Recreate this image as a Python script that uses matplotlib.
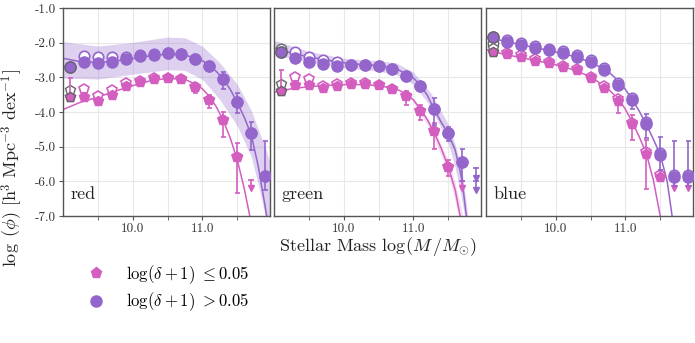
import numpy as np
import matplotlib
matplotlib.use('Agg')
import matplotlib.pyplot as plt
from matplotlib.ticker import MultipleLocator, FixedLocator
from matplotlib.lines import Line2D

plt.rcParams['font.family'] = 'serif'
plt.rcParams['font.serif'] = ['cmr10', 'DejaVu Serif']
plt.rcParams['mathtext.fontset'] = 'cm'
plt.rcParams['axes.unicode_minus'] = False
plt.rcParams['axes.formatter.use_mathtext'] = True

PURPLE = '#9466cc'
PINK = '#d35ec0'
GREYEDGE = '#666666'

# mass bins (log M)
mass = [9.1, 9.3, 9.5, 9.7, 9.9, 10.1, 10.3, 10.5, 10.7, 10.9, 11.1, 11.3, 11.5, 11.7, 11.9]
nan = np.nan

# ---------------- red ----------------
red_hi = [-2.69, -2.56, -2.58, -2.55, -2.48, -2.38, -2.35, -2.31, -2.33, -2.47, -2.68, -3.05, -3.71, -4.61, -5.85]
red_hi_open = [-2.69, -2.38, -2.40, -2.40, -2.42, -2.36, -2.34, -2.31, -2.33, -2.47, -2.68, -3.05, -3.71, -4.61, -5.85]
red_hi_elo = [0.08, 0.05, 0.05, 0.05, 0.05, 0.04, 0.04, 0.04, 0.04, 0.05, 0.08, 0.30, 0.33, 0.48, 0.39]
red_hi_ehi = [0.08, 0.05, 0.05, 0.05, 0.05, 0.04, 0.04, 0.04, 0.04, 0.05, 0.08, 0.21, 0.25, 0.33, 1.02]
red_lo = [-3.57, -3.56, -3.69, -3.50, -3.26, -3.14, -3.04, -3.01, -3.04, -3.29, -3.64, -4.23, -5.31, nan, nan]
red_lo_open = [-3.36, -3.34, -3.55, -3.36, -3.17, -3.12, -3.03, -3.01, -3.04, -3.29, -3.64, -4.23, -5.31, nan, nan]
red_lo_elo = [0.05, 0.10, 0.06, 0.05, 0.05, 0.04, 0.04, 0.04, 0.04, 0.17, 0.25, 0.48, 1.03, nan, nan]
red_lo_ehi = [0.55, 0.10, 0.06, 0.05, 0.05, 0.04, 0.04, 0.04, 0.04, 0.12, 0.13, 0.24, 0.41, nan, nan]
red_ul_x = [11.7]
red_ul_top = [-5.95]
red_ul_bot = [-6.2]
red_ul_col = [PINK]

# fit curves
red_fit_x = [9.0, 9.25, 9.5, 9.75, 10.0, 10.25, 10.5, 10.75, 10.9, 11.0, 11.1, 11.2, 11.3, 11.4, 11.5, 11.6, 11.7, 11.8, 11.9, 11.93]
red_fit_hi = [-2.45, -2.55, -2.57, -2.53, -2.46, -2.38, -2.33, -2.36, -2.44, -2.52, -2.66, -2.83, -3.05, -3.35, -3.72, -4.15, -4.65, -5.55, -6.72, -7.1]
red_fit_lo = [-3.93, -3.72, -3.57, -3.40, -3.24, -3.10, -3.03, -3.06, -3.20, -3.33, -3.55, -3.85, -4.25, -4.75, -5.38, -6.2, -7.2, nan, nan, nan]
red_band_x = [9.0, 9.5, 10.0, 10.5, 10.75, 11.0, 11.25, 11.5, 11.7, 11.85, 11.9, 12.0]
red_band_top = [-1.97, -2.10, -1.99, -1.84, -1.86, -2.10, -2.58, -3.2, -3.95, -4.75, -5.0, -5.66]
red_band_bot = [-3.02, -3.05, -2.91, -2.78, -2.80, -3.06, -3.64, -4.4, -5.28, -6.5, -7.0, -7.6]

# ---------------- green ----------------
green_hi = [-2.27, -2.44, -2.55, -2.61, -2.66, -2.65, -2.65, -2.68, -2.76, -2.95, -3.24, -3.92, -4.61, -5.43, nan]
green_hi_open = [-2.18, -2.27, -2.41, -2.49, -2.56, -2.63, -2.64, -2.68, -2.76, -2.95, -3.24, -3.92, -4.61, -5.43, nan]
green_hi_elo = [0.05, 0.04, 0.04, 0.04, 0.04, 0.04, 0.04, 0.04, 0.04, 0.05, 0.10, 0.45, 0.22, 0.55, nan]
green_hi_ehi = [0.05, 0.04, 0.04, 0.04, 0.04, 0.04, 0.04, 0.04, 0.04, 0.05, 0.10, 0.32, 0.18, 0.36, nan]
green_lo = [-3.40, -3.21, -3.22, -3.30, -3.26, -3.18, -3.18, -3.21, -3.33, -3.54, -3.97, -4.55, -5.58, nan, nan]
green_lo_open = [-3.20, -3.00, -3.04, -3.24, -3.18, -3.16, -3.17, -3.21, -3.33, -3.54, -3.97, -4.55, -5.58, nan, nan]
green_lo_elo = [0.05, 0.05, 0.05, 0.05, 0.04, 0.04, 0.04, 0.04, 0.05, 0.25, 0.26, 0.51, 0.28, nan, nan]
green_lo_ehi = [0.60, 0.05, 0.05, 0.05, 0.04, 0.04, 0.04, 0.04, 0.05, 0.15, 0.17, 0.24, 0.20, nan, nan]
green_ul_x = [11.9, 11.9, 11.7]
green_ul_top = [-5.62, -6.0, -6.0]
green_ul_bot = [-5.91, -6.26, -6.2]
green_ul_col = [PURPLE, PURPLE, PINK]

green_fit_x = [9.0, 9.25, 9.5, 9.75, 10.0, 10.25, 10.5, 10.75, 10.9, 11.0, 11.1, 11.2, 11.3, 11.4, 11.5, 11.6, 11.67, 11.7, 11.76]
green_fit_hi = [-2.15, -2.30, -2.41, -2.50, -2.58, -2.63, -2.66, -2.75, -2.90, -3.02, -3.22, -3.52, -3.93, -4.3, -4.62, -5.1, -5.7, -6.0, -7.0]
green_fit_lo = [-3.43, -3.33, -3.27, -3.23, -3.21, -3.21, -3.24, -3.33, -3.48, -3.65, -3.92, -4.22, -4.6, -5.05, -5.58, -6.25, -7.0, nan, nan]
green_band_x = [9.0, 9.5, 10.0, 10.5, 10.75, 11.0, 11.25, 11.5, 11.6, 11.7, 11.78]
green_band_top = [-1.93, -2.25, -2.45, -2.52, -2.58, -2.85, -3.45, -4.35, -4.95, -5.7, -7.0]
green_band_bot = [-2.35, -2.56, -2.72, -2.82, -2.92, -3.20, -3.85, -4.9, -5.6, -6.6, -7.5]
green_pband_x = [11.0, 11.25, 11.5, 11.6, 11.7]
green_pband_top = [-3.6, -4.3, -5.4, -6.05, -6.9]
green_pband_bot = [-3.72, -4.55, -5.75, -6.6, -7.5]

# ---------------- blue ----------------
blue_hi = [-1.85, -1.98, -2.07, -2.15, -2.22, -2.30, -2.41, -2.56, -2.79, -3.21, -3.66, -4.34, -5.23, -5.88, -5.88]
blue_hi_open = [-2.02, -1.93, -2.02, -2.10, -2.17, -2.25, -2.36, -2.51, -2.74, -3.16, -3.61, -4.29, -5.18, -5.83, -5.83]
blue_hi_elo = [0.04, 0.04, 0.04, 0.04, 0.04, 0.04, 0.04, 0.05, 0.08, 0.10, 0.25, 0.41, 0.44, 0.26, 0.26]
blue_hi_ehi = [0.04, 0.04, 0.04, 0.04, 0.04, 0.04, 0.04, 0.05, 0.08, 0.10, 0.10, 0.28, 0.50, 1.03, 1.03]
blue_lo = [-2.27, -2.34, -2.42, -2.52, -2.60, -2.71, -2.80, -3.03, -3.30, -3.67, -4.36, -5.21, -5.88, nan, nan]
blue_lo_open = [-2.15, -2.29, -2.37, -2.47, -2.55, -2.66, -2.75, -2.98, -3.25, -3.62, -4.31, -5.16, -5.83, nan, nan]
blue_lo_elo = [0.04, 0.04, 0.04, 0.04, 0.04, 0.04, 0.04, 0.05, 0.12, 0.37, 0.44, 1.01, 0.10, nan, nan]
blue_lo_ehi = [0.04, 0.04, 0.04, 0.04, 0.04, 0.04, 0.04, 0.05, 0.08, 0.10, 0.28, 0.41, 0.20, nan, nan]
blue_ul_x = [11.7, 11.9]
blue_ul_top = [-5.9, -5.9]
blue_ul_bot = [-6.2, -6.2]
blue_ul_col = [PINK, PINK]

blue_fit_x = [9.0, 9.25, 9.5, 9.75, 10.0, 10.25, 10.5, 10.75, 10.9, 11.0, 11.1, 11.2, 11.3, 11.4, 11.5, 11.6, 11.67]
blue_fit_hi = [-1.84, -1.95, -2.06, -2.16, -2.27, -2.39, -2.56, -2.83, -3.10, -3.35, -3.65, -3.98, -4.36, -4.78, -5.23, -6.0, -7.0]
blue_fit_lo = [-2.20, -2.33, -2.43, -2.53, -2.64, -2.78, -2.98, -3.33, -3.63, -3.92, -4.30, -4.72, -5.20, -5.95, -7.0, nan, nan]

panels = ['red', 'green', 'blue']
hi_vals = [red_hi, green_hi, blue_hi]
hi_open = [red_hi_open, green_hi_open, blue_hi_open]
hi_err = [(red_hi_elo, red_hi_ehi), (green_hi_elo, green_hi_ehi), (blue_hi_elo, blue_hi_ehi)]
lo_vals = [red_lo, green_lo, blue_lo]
lo_open = [red_lo_open, green_lo_open, blue_lo_open]
lo_err = [(red_lo_elo, red_lo_ehi), (green_lo_elo, green_lo_ehi), (blue_lo_elo, blue_lo_ehi)]
uls = [(red_ul_x, red_ul_top, red_ul_bot, red_ul_col),
       (green_ul_x, green_ul_top, green_ul_bot, green_ul_col),
       (blue_ul_x, blue_ul_top, blue_ul_bot, blue_ul_col)]
fits = [(red_fit_x, red_fit_hi, red_fit_lo), (green_fit_x, green_fit_hi, green_fit_lo),
        (blue_fit_x, blue_fit_hi, blue_fit_lo)]
bands = [(red_band_x, red_band_top, red_band_bot, PURPLE, 0.3),
         (green_band_x, green_band_top, green_band_bot, PURPLE, 0.3),
         (green_pband_x, green_pband_top, green_pband_bot, PINK, 0.2)]
band_panel = [0, 1, 1]

fig = plt.figure(figsize=(6.95, 3.43), dpi=100)
W, H = 695., 343.
lefts = [63, 274, 486]
axes = []
for i, l in enumerate(lefts):
    ax = fig.add_axes([l / W, (H - 216) / H, 207 / W, 208 / H])
    axes.append(ax)

m = np.array(mass)
for i, ax in enumerate(axes):
    ax.set_xlim(9.0, 11.97)
    ax.set_ylim(-7.0, -1.0)
    ax.xaxis.set_major_locator(FixedLocator([10.0, 11.0]))
    ax.xaxis.set_minor_locator(FixedLocator([9.5, 10.5, 11.5]))
    ax.yaxis.set_major_locator(MultipleLocator(1.0))
    ax.xaxis.set_major_formatter(matplotlib.ticker.FormatStrFormatter('%.1f'))
    ax.yaxis.set_major_formatter(matplotlib.ticker.FormatStrFormatter('%.1f'))
    ax.grid(True, which='both', color='#e8e8e8', lw=0.8, zorder=0)
    ax.set_axisbelow(True)
    for s in ax.spines.values():
        s.set_color('#555555')
        s.set_linewidth(1.0)
    ax.tick_params(which='both', direction='out', length=3, color='#555555',
                   labelsize=9.5, labelcolor='#333333', pad=2)
    if i > 0:
        ax.tick_params(axis='y', labelleft=False, length=0)

    for j, (bx, bt, bb, bc, ba) in enumerate(bands):
        if band_panel[j] == i:
            ax.fill_between(bx, bt, bb, color=bc, alpha=ba, lw=0, zorder=1)

    fx, fhi, flo = fits[i]
    ax.plot(fx, fhi, color=PURPLE, lw=1.1, zorder=2)
    ax.plot(fx, flo, color=PINK, lw=1.1, zorder=2)

    # open markers (behind)
    ho = np.array(hi_open[i])
    lo_ = np.array(lo_open[i])
    ax.plot(m[1:], ho[1:], 'o', mfc='white', mec=PURPLE, mew=1.2, ms=7.5, ls='none', zorder=3)
    ax.plot(m[1:], lo_[1:], 'p', mfc='white', mec=PINK, mew=1.2, ms=7.5, ls='none', zorder=3)
    ax.plot(m[:1], ho[:1], 'o', mfc='white', mec=GREYEDGE, mew=1.0, ms=7.5, ls='none', zorder=3)
    ax.plot(m[:1], lo_[:1], 'p', mfc='white', mec=GREYEDGE, mew=1.0, ms=7.5, ls='none', zorder=3)

    # filled markers with errors
    hv = np.array(hi_vals[i])
    lv = np.array(lo_vals[i])
    ax.errorbar(m, lv, yerr=[lo_err[i][0], lo_err[i][1]], fmt='p', color=PINK, mec=PINK,
                ms=7.5, elinewidth=1.2, capsize=1.8, capthick=1.2, zorder=4)
    ax.errorbar(m, hv, yerr=[hi_err[i][0], hi_err[i][1]], fmt='o', color=PURPLE, mec=PURPLE,
                ms=8, elinewidth=1.2, capsize=1.8, capthick=1.2, zorder=5)
    ax.plot(m[:1], lv[:1], 'p', mfc=PINK, mec=GREYEDGE, mew=1.0, ms=7.5, zorder=6)
    ax.plot(m[:1], hv[:1], 'o', mfc=PURPLE, mec=GREYEDGE, mew=1.0, ms=8, zorder=6)

    # upper limits
    ux, ut, ub, uc = uls[i]
    for x, t, b, c in zip(ux, ut, ub, uc):
        ax.plot([x, x], [t, b], color=c, lw=1.2, zorder=4)
        ax.plot(x, t, marker='_', color=c, ms=4, mew=1.2, zorder=4)
        ax.plot(x, b, marker='v', color=c, ms=4.5, zorder=4)

    ax.text(0.035, 0.08, panels[i], transform=ax.transAxes, fontsize=13, color='#222222')

fig.text((274 + 104) / W, (H - 246) / H, r'Stellar Mass $\log(M\,/M_{\odot})$',
         ha='center', va='center', fontsize=13, color='#222222')
fig.text(12 / W, (H - 168) / H, r'$\log\ (\phi)\ [\mathrm{h}^3\ \mathrm{Mpc}^{-3}\ \mathrm{dex}^{-1}]$',
         rotation=90, ha='center', va='center', fontsize=13, color='#222222')

handles = [Line2D([], [], marker='p', color=PINK, ls='none', ms=8),
           Line2D([], [], marker='o', color=PURPLE, ls='none', ms=8)]
labels = [r'$\log(\delta+1)\ \leq$0.05', r'$\log(\delta+1)\ >$0.05']
fig.legend(handles, labels, loc='upper left', bbox_to_anchor=(64 / W, (H - 248) / H),
           frameon=False, fontsize=12, handletextpad=0.8, labelspacing=0.3)

fig.savefig('out.png', dpi=100)
